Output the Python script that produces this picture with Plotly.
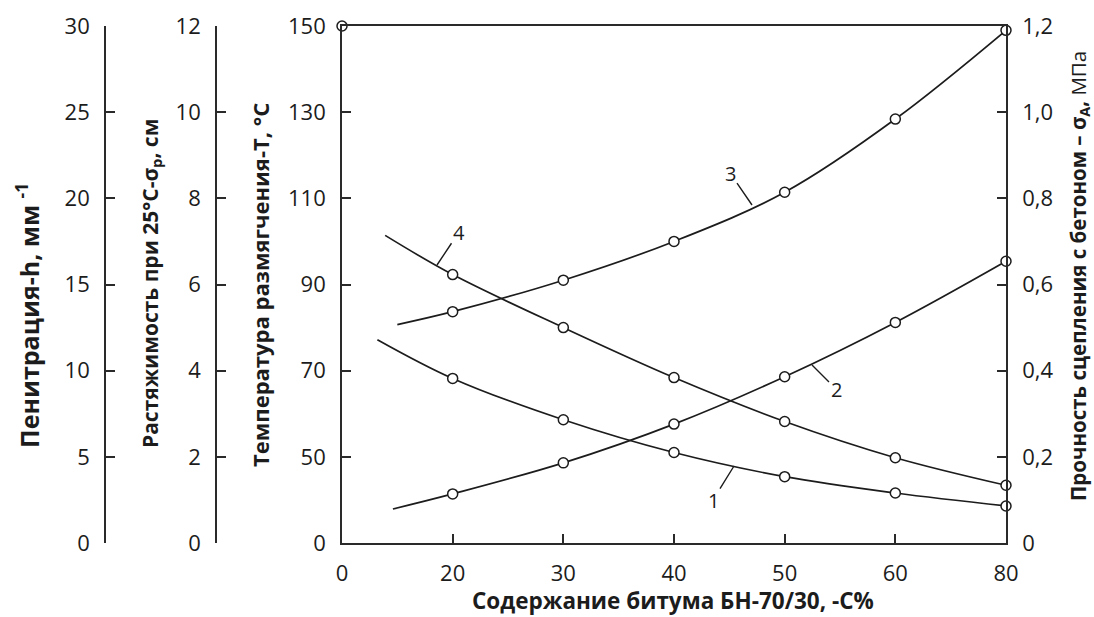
import numpy as np
import plotly.graph_objects as go

# ---- data -------------------------------------------------------------
x_ticks = [0, 20, 30, 40, 50, 60, 80]                 # bitumen content, %
temp_ticks = [0, 50, 70, 90, 110, 130, 150]           # softening temperature axis labels
pen_ticks = [0, 5, 10, 15, 20, 25, 30]
ext_ticks = [0, 2, 4, 6, 8, 10, 12]
adh_ticks = [0, 0.2, 0.4, 0.6, 0.8, 1.0, 1.2]

content = [20, 30, 40, 50, 60, 80]

# 1 - penetration (mm^-1)
pen_start = (6.4, 11.8)
penetration = [9.55, 7.15, 5.25, 3.85, 2.9, 2.15]
# 2 - adhesion to concrete (MPa)
adh_start = (9.2, 0.079)
adhesion = [0.114, 0.186, 0.276, 0.386, 0.512, 0.654]
# 3 - softening temperature (°C)
temp_start = (10.0, 80.7)
temperature = [83.7, 91.0, 100.0, 111.4, 128.4, 149.0]
# 4 - extensibility at 25°C (cm)
ext_start = (7.8, 7.14)
extensibility = [6.23, 5.0, 3.84, 2.82, 1.98, 1.34]

stray_x = [0]
stray_T = [150]


def xpos(v):
    return np.interp(v, x_ticks, np.arange(len(x_ticks)))


def tpos(v):
    return np.interp(v, temp_ticks, np.arange(len(temp_ticks)))


INK = "#1c1c1c"
W, H = 1094, 617
L_PX, R_PX, T_PX, B_PX = 342, 1006, 26, 543

fig = go.Figure()


def add_curve(start, xs, ys, yaxis, ymap=lambda v: v):
    lx = xpos([start[0]] + xs)
    ly = ymap([start[1]] + ys)
    fig.add_trace(go.Scatter(x=lx, y=ly, yaxis=yaxis, mode="lines",
                             line=dict(color=INK, width=1.7, shape="spline", smoothing=1.0),
                             hoverinfo="skip", showlegend=False))
    fig.add_trace(go.Scatter(x=xpos(xs), y=ymap(ys), yaxis=yaxis, mode="markers",
                             marker=dict(symbol="circle", size=10, color="white",
                                         line=dict(color=INK, width=1.5)),
                             showlegend=False, cliponaxis=False))


add_curve(pen_start, content, penetration, "y2")
add_curve(ext_start, content, extensibility, "y3")
add_curve(temp_start, content, temperature, "y", ymap=lambda v: tpos(v))
add_curve(adh_start, content, adhesion, "y4")

fig.add_trace(go.Scatter(x=xpos(stray_x), y=tpos(stray_T), mode="markers",
                         marker=dict(symbol="circle", size=10, color="white",
                                     line=dict(color=INK, width=1.5)),
                         showlegend=False, cliponaxis=False))

FONT = "Open Sans, DejaVu Sans, sans-serif"
tickfont = dict(family=FONT, size=22, color=INK)
common = dict(showline=True, linecolor="#2a2a2a", linewidth=1.7, ticks="inside",
              ticklen=9, tickwidth=1.8, tickcolor="#2a2a2a", showgrid=False,
              zeroline=False, tickfont=tickfont, ticklabelstandoff=10)

fig.update_layout(
    width=W, height=H,
    margin=dict(l=0, r=0, t=T_PX, b=H - B_PX, autoexpand=False),
    paper_bgcolor="white", plot_bgcolor="white",
    xaxis=dict(domain=[L_PX / W, R_PX / W], range=[0, 6],
               tickvals=list(range(len(x_ticks))), ticktext=[str(v) for v in x_ticks],
               mirror=True, **common),
    yaxis=dict(range=[0, 6], tickvals=list(range(len(temp_ticks))),
               ticktext=[str(v) for v in temp_ticks], **common),
    yaxis2=dict(range=[0, 30], tickvals=pen_ticks, ticktext=[str(v) for v in pen_ticks],
                overlaying="y", anchor="free", position=105 / W, side="left", **common),
    yaxis3=dict(range=[0, 12], tickvals=ext_ticks, ticktext=[str(v) for v in ext_ticks],
                overlaying="y", anchor="free", position=216 / W, side="left", **common),
    yaxis4=dict(range=[0, 1.2], tickvals=adh_ticks,
                ticktext=[("%.1f" % v).replace(".", ",") if v else "0" for v in adh_ticks],
                overlaying="y", anchor="x", side="right", **common),
)


def ytitle(text, xpx, ypx, size=22):
    fig.add_annotation(text=text, xref="paper", yref="paper",
                       x=xpx / W, y=(B_PX - ypx) / (B_PX - T_PX), textangle=-90,
                       showarrow=False, font=dict(family=FONT, size=size, color=INK),
                       xanchor="center", yanchor="middle")


ytitle("<b>Пенитрация-h, мм</b> <sup><b>-1</b></sup>", 27, 316, size=25)
ytitle("<b>Растяжимость при 25°C-σ<sub>р</sub>, см</b>", 151, 284, size=21)
ytitle("<b>Температура размягчения-T, °C</b>", 260, 285)
ytitle("<b>Прочность сцепления с бетоном – σ<sub>A</sub>,</b> МПа", 1079, 276, size=20.5)

fig.add_annotation(text="<b>Содержание битума БН-70/30, -С%</b>", xref="paper", yref="paper",
                   x=673 / W, y=(B_PX - 600) / (B_PX - T_PX), showarrow=False,
                   font=dict(family=FONT, size=22.5, color=INK),
                   xanchor="center", yanchor="middle")

labelfont = dict(family=FONT, size=20, color=INK)


def curve_label(text, tip_px, text_px):
    tx = (tip_px[0] - L_PX) / (R_PX - L_PX) * 6
    ty = (B_PX - tip_px[1]) / (B_PX - T_PX) * 6
    fig.add_annotation(text=text, x=tx, y=ty, xref="x", yref="y",
                       ax=text_px[0] - tip_px[0], ay=text_px[1] - tip_px[1],
                       showarrow=True, arrowhead=0, arrowwidth=1.4, arrowcolor=INK,
                       font=labelfont, standoff=0)


curve_label("1", (734, 466), (713, 500))
curve_label("2", (812, 365), (836, 389))
curve_label("3", (752, 205), (730, 173))
curve_label("4", (437, 265), (459, 232))

fig.write_html("out.html", config={"displayModeBar": False},
               post_script="document.body.style.margin='0';document.body.style.overflow='hidden';")
